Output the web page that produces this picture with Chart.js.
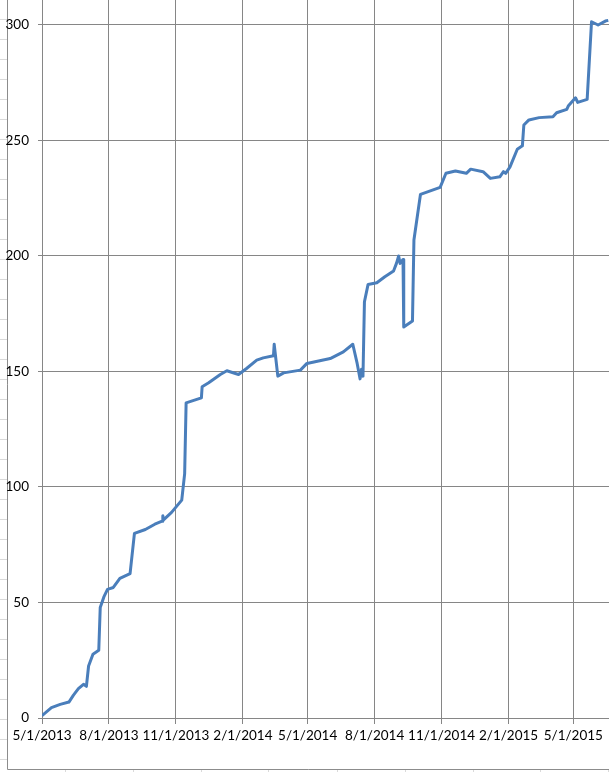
<!DOCTYPE html>
<html>
<head>
<meta charset="utf-8">
<script src="https://cdn.jsdelivr.net/npm/chart.js@4/dist/chart.umd.min.js"></script>
<style>
  html, body { margin: 0; padding: 0; background: #fff; }
  canvas { display: block; }
</style>
</head>
<body>
<canvas id="chart" width="609" height="772"></canvas>
<script>
// Readings (date → running total)
const DATES = [
  '2013-05-01', '2013-05-14', '2013-05-26', '2013-06-07', '2013-06-13', '2013-06-20',
  '2013-06-27', '2013-07-01', '2013-07-04', '2013-07-10', '2013-07-18', '2013-07-20',
  '2013-07-25', '2013-07-30', '2013-08-07', '2013-08-16', '2013-08-30', '2013-09-05',
  '2013-09-20', '2013-10-03', '2013-10-13', '2013-10-14', '2013-10-15', '2013-10-26',
  '2013-11-09', '2013-11-13', '2013-11-15', '2013-12-06', '2013-12-07', '2013-12-16',
  '2014-01-01', '2014-01-10', '2014-01-26', '2014-02-06', '2014-02-20', '2014-03-01',
  '2014-03-15', '2014-03-16', '2014-03-21', '2014-03-29', '2014-04-21', '2014-04-30',
  '2014-06-01', '2014-06-19', '2014-07-02', '2014-07-08', '2014-07-12', '2014-07-14',
  '2014-07-16', '2014-07-18', '2014-07-23', '2014-08-04', '2014-08-15', '2014-08-27',
  '2014-08-31', '2014-09-03', '2014-09-05', '2014-09-09', '2014-09-10', '2014-09-22',
  '2014-09-24', '2014-10-03', '2014-10-30', '2014-11-07', '2014-11-20', '2014-12-05',
  '2014-12-11', '2014-12-28', '2015-01-07', '2015-01-20', '2015-01-25', '2015-01-28',
  '2015-02-03', '2015-02-13', '2015-02-20', '2015-02-22', '2015-03-01', '2015-03-15',
  '2015-04-03', '2015-04-08', '2015-04-22', '2015-04-24', '2015-05-04', '2015-05-07',
  '2015-05-20', '2015-05-26', '2015-06-04', '2015-06-14', '2015-06-18',
];
const VALUES = [
  1.0, 4.5, 5.9, 6.9, 9.8, 12.7,
  14.6, 13.7, 22.5, 27.6, 29.3, 47.8,
  52.4, 55.7, 56.5, 60.4, 62.5, 79.9,
  81.6, 83.9, 85.2, 87.5, 85.8, 89.0,
  94.3, 105.8, 136.4, 138.6, 143.4, 145.1,
  148.7, 150.3, 148.7, 151.3, 154.9, 155.9,
  156.8, 161.8, 148.0, 149.4, 150.6, 153.5,
  155.6, 158.5, 161.8, 153.5, 146.8, 151.0,
  148.0, 180.2, 187.7, 188.4, 191.0, 193.5,
  196.8, 200.0, 196.8, 198.5, 169.3, 171.9,
  206.9, 226.7, 229.7, 235.8, 236.8, 235.8,
  237.6, 236.5, 233.6, 234.3, 236.5, 235.8,
  238.6, 246.2, 247.7, 256.7, 258.9, 259.9,
  260.3, 262.0, 263.5, 264.9, 268.5, 266.5,
  267.8, 301.4, 300.0, 301.7, 302.0,
];
const TICK_DATES = [
  '2013-05-01', '2013-08-01', '2013-11-01', '2014-02-01', '2014-05-01',
  '2014-08-01', '2014-11-01', '2015-02-01', '2015-05-01',
];
const Y_TICKS = [0, 50, 100, 150, 200, 250, 300];

const START = Date.UTC(2013, 4, 1);
const GRID = '#868686';

function dayNum(s) {
  const [y, m, d] = s.split('-').map(Number);
  return (Date.UTC(y, m - 1, d) - START) / 86400000;
}
function usDate(s) {
  const [y, m, d] = s.split('-').map(Number);
  return `${m}/${d}/${y}`;
}

// spreadsheet cells peeking around the chart object
const sheetBackdrop = {
  id: 'sheetBackdrop',
  beforeDraw(chart) {
    const ctx = chart.ctx;
    ctx.save();
    ctx.fillStyle = '#fff';
    ctx.fillRect(0, 0, chart.width, chart.height);
    ctx.strokeStyle = '#dadada';
    ctx.lineWidth = 1;
    for (let y = 19; y < chart.height; y += 20) {
      ctx.beginPath(); ctx.moveTo(0, y + 0.5); ctx.lineTo(7, y + 0.5); ctx.stroke();
    }
    [65, 133, 201, 268, 337, 405, 473, 540, 608].forEach(x => {
      ctx.beginPath(); ctx.moveTo(x + 0.5, 770); ctx.lineTo(x + 0.5, chart.height); ctx.stroke();
    });
    ctx.strokeStyle = '#8c8c8c';
    ctx.beginPath();
    ctx.moveTo(7.5, 0); ctx.lineTo(7.5, 769.5); ctx.lineTo(chart.width, 769.5);
    ctx.stroke();
    ctx.restore();
  },
};

const font = { family: 'Lato, "Liberation Sans", sans-serif', size: 13.5 };

new Chart(document.getElementById('chart'), {
  type: 'line',
  data: {
    datasets: [{
      data: DATES.map((d, i) => ({ x: dayNum(d), y: VALUES[i] })),
      borderColor: '#4a7ebb',
      borderWidth: 3,
      borderJoinStyle: 'round',
      pointRadius: 0,
      tension: 0,
    }],
  },
  options: {
    responsive: false,
    animation: false,
    devicePixelRatio: 1,
    layout: { padding: 0 },
    plugins: { legend: { display: false }, tooltip: { enabled: false } },
    scales: {
      x: {
        type: 'linear',
        min: 0,
        max: 779,
        afterBuildTicks: (s) => { s.ticks = TICK_DATES.map(d => ({ value: dayNum(d) })); },
        afterFit: (s) => { s.height = 54; s.paddingLeft = 0; s.paddingRight = 0; },
        ticks: {
          color: '#000', font, padding: 4, maxRotation: 0, autoSkip: false,
          callback: (v, i) => usDate(TICK_DATES[i]),
        },
        grid: { color: GRID, tickLength: 6 },
        border: { color: GRID },
      },
      y: {
        min: 0,
        max: 310.82,
        afterBuildTicks: (s) => { s.ticks = Y_TICKS.map(v => ({ value: v })); },
        afterFit: (s) => { s.width = 42; s.paddingTop = 0; s.paddingBottom = 0; },
        ticks: { color: '#000', font, padding: 9 },
        grid: { color: GRID, tickLength: 4 },
        border: { color: GRID },
      },
    },
  },
  plugins: [sheetBackdrop],
});
</script>
</body>
</html>
